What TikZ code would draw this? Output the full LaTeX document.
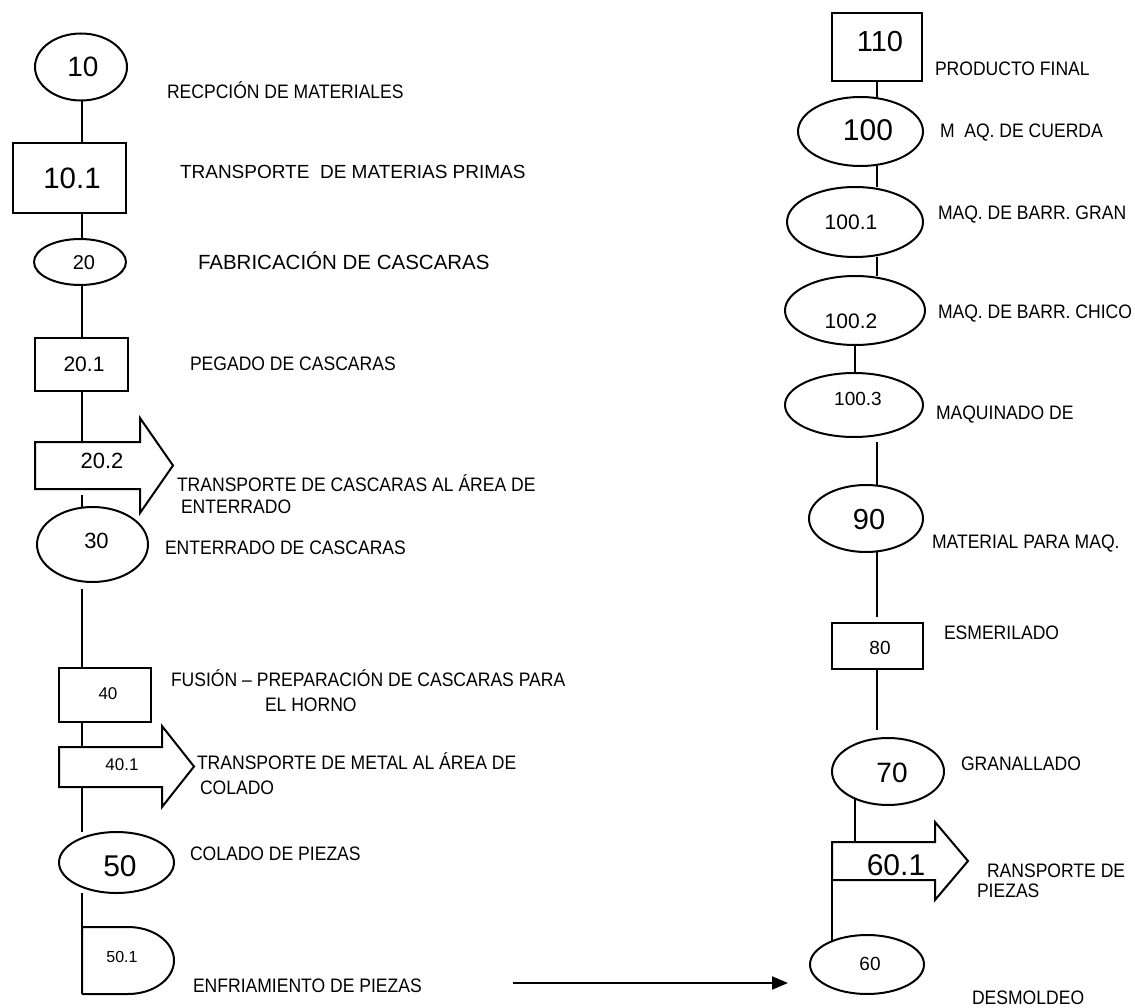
\documentclass[tikz,border=0pt]{standalone}
\usepackage{fontspec}
\setmainfont{Liberation Sans}[FakeStretch=0.9]
\newfontfamily\plainfont{Liberation Sans}
\usetikzlibrary{shapes.geometric,arrows.meta,calc}
\tikzset{
  outline/.style={line width=2pt, line join=miter},
  shp/.style={draw, line width=2pt, inner sep=0pt, outer sep=0pt},
  ell/.style={shp, ellipse},
  box/.style={shp, rectangle},
  ghost/.style={rectangle, inner sep=0pt, outer sep=0pt},
  num/.style={inner sep=0pt, outer sep=0pt, font=\plainfont\fontsize{#1}{#1}\selectfont},
  lbl/.style={anchor=west, inner sep=0pt, outer sep=0pt, text height=14pt, text depth=0pt, font=\fontsize{19.5}{23}\selectfont},
  widelbl/.style={anchor=west, inner sep=0pt, outer sep=0pt, text height=#1, text depth=0pt},
  link/.style={line width=2pt},
}
\begin{document}
\begin{tikzpicture}[x=1pt,y=-1pt]
\useasboundingbox[fill=white] (0,0) rectangle (1135,1008);

% spine coordinates
\coordinate (spL) at (81.5,0);
\coordinate (spRa) at (876.5,0);
\coordinate (spRb) at (855,0);

% ---------------- left column ----------------
\node[ell, minimum width=92pt, minimum height=67pt] (n10) at (81,67) {};
\node[num=28] (t10) at (83,67) {10};
\node[lbl] (l10) at (167,92) {RECPCIÓN DE MATERIALES};

\node[box, minimum width=113pt, minimum height=70pt] (b101) at (69.5,178) {};
\node[num=29.5] (t101) at (72,178) {10.1};
\node[widelbl=13.6pt, font=\plainfont\fontsize{19}{23}\selectfont] (l101) at (180,172) {TRANSPORTE \ DE MATERIAS PRIMAS};

\node[ell, minimum width=92pt, minimum height=46pt] (n20) at (80,262) {};
\node[num=20] (t20) at (84,263) {20};
\node[widelbl=14.7pt, font=\plainfont\fontsize{20.5}{25}\selectfont] (l20) at (198,262) {FABRICACIÓN DE CASCARAS};

\node[box, minimum width=93pt, minimum height=53pt] (b201) at (81.5,364.5) {};
\node[num=21] (t201) at (84,364) {20.1};
\node[lbl] (l201) at (190,363) {PEGADO DE CASCARAS};

\node[ghost, minimum width=105pt, minimum height=47pt] (a202) at (87.5,465.5) {};
\draw[outline] (a202.south west) -- (a202.north west) -- (a202.north east) -- ++(0,-24) -- ++(33,47.5) -- ++(-33,47.5) -- (a202.south east) -- cycle;
\node[num=22] (t202) at (102,461) {20.2};
\node[lbl] (l202a) at (177,484) {TRANSPORTE DE CASCARAS AL ÁREA DE};
\node[lbl] (l202b) at (181,506) {ENTERRADO};

\node[ell, minimum width=111pt, minimum height=75pt] (n30) at (92.5,544.5) {};
\node[num=22] (t30) at (96.5,541) {30};
\node[lbl] (l30) at (165,547) {ENTERRADO DE CASCARAS};

\node[box, minimum width=92pt, minimum height=54pt] (b40) at (105,695) {};
\node[num=17] (t40) at (108,694) {40};
\node[lbl] (l40a) at (171,679) {FUSIÓN – PREPARACIÓN DE CASCARAS PARA};
\node[lbl] (l40b) at (265,704) {EL HORNO};

\node[ghost, minimum width=103pt, minimum height=40pt] (a401) at (110.5,767) {};
\draw[outline] (a401.south west) -- (a401.north west) -- (a401.north east) -- ++(0,-21) -- ++(32,40.5) -- ++(-32,40.5) -- (a401.south east) -- cycle;
\node[num=17] (t401) at (122,765) {40.1};
\node[lbl] (l401a) at (197,762) {TRANSPORTE DE METAL AL ÁREA DE};
\node[lbl] (l401b) at (200,787) {COLADO};

\node[ell, minimum width=115pt, minimum height=61pt] (n50) at (116.5,862.5) {};
\node[num=30] (t50) at (120,866) {50};
\node[lbl] (l50) at (190,853) {COLADO DE PIEZAS};

\node[ghost, minimum width=92pt, minimum height=67pt] (d501) at (128,960.5) {};
\draw[outline] (d501.south west) -- (d501.north west) -- ++(46,0) arc[start angle=90, end angle=-90, x radius=46pt, y radius=33.5pt] -- (d501.south west);
\node[num=16] (t501) at (122,957) {50.1};
\node[lbl] (l501) at (193,985) {ENFRIAMIENTO DE PIEZAS};

% left connectors
\draw[link] (n10.south -| spL) -- (b101.north -| spL);
\draw[link] (b101.south -| spL) -- (n20.north -| spL);
\draw[link] (n20.south -| spL) -- (b201.north -| spL);
\draw[link] (b201.south -| spL) -- (a202.north -| spL);
\coordinate (g1) at (81.5,495);
\draw[link] (g1) -- (n30.north -| spL);
\coordinate (g2) at (82,589);
\draw[link] (g2) -- (b40.north -| g2);
\draw[link] (b40.south -| g2) -- (a401.north -| g2);
\draw[link] (a401.south -| g2) -- (n50.north -| g2);
\draw[link] (n50.south -| g2) -- (d501.north west);

% ---------------- right column ----------------
\node[box, minimum width=90pt, minimum height=68pt] (b110) at (877,47) {};
\node[num=29] (t110) at (880,42) {110};
\node[lbl] (l110) at (935,69) {PRODUCTO FINAL};

\node[ell, minimum width=125pt, minimum height=69pt] (n100) at (860.5,131.5) {};
\node[num=30] (t100) at (868,130) {100};
\node[lbl] (l100) at (940,131) {M \ AQ. DE CUERDA};

\node[ell, minimum width=136pt, minimum height=70pt] (n1001) at (855,222) {};
\node[num=21] (t1001) at (851,222) {100.1};
\node[lbl] (l1001) at (938,213) {MAQ. DE BARR. GRAN};

\node[ell, minimum width=140pt, minimum height=69pt] (n1002) at (855,310.5) {};
\node[num=21] (t1002) at (851,321) {100.2};
\node[lbl] (l1002) at (938,312) {MAQ. DE BARR. CHICO};

\node[ell, minimum width=138pt, minimum height=64pt] (n1003) at (854,405) {};
\node[num=19] (t1003) at (858,399) {100.3};
\node[lbl] (l1003) at (936,412) {MAQUINADO DE};

\node[ell, minimum width=114pt, minimum height=67pt] (n90) at (866,518.5) {};
\node[num=29] (t90) at (869,520) {90};
\node[lbl] (l90) at (932,541) {MATERIAL PARA MAQ.};

\node[box, minimum width=91pt, minimum height=46pt] (b80) at (877.5,646) {};
\node[num=19] (t80) at (880,648) {80};
\node[lbl] (l80) at (944,632) {ESMERILADO};

\node[ell, minimum width=112pt, minimum height=67pt] (n70) at (888,771.5) {};
\node[num=28] (t70) at (892,773) {70};
\node[lbl] (l70) at (961,763) {GRANALLADO};

\node[ghost, minimum width=103pt, minimum height=38pt] (a601) at (883.5,861) {};
\draw[outline] (a601.south west) -- (a601.north west) -- (a601.north east) -- ++(0,-20) -- ++(33,39) -- ++(-33,39) -- (a601.south east) -- cycle;
\node[num=30] (t601) at (896,865) {60.1};
\node[lbl] (l601a) at (987,870) {RANSPORTE DE};
\node[lbl] (l601b) at (977,890) {PIEZAS};

\node[ell, minimum width=114pt, minimum height=59pt] (n60) at (867,964.5) {};
\node[num=19] (t60) at (870,964) {60};
\node[lbl] (l60) at (972,997) {DESMOLDEO};

% right connectors
\draw[link] (b110.south -| spRa) -- (n100.north -| spRa);
\draw[link] (n100.south -| spRa) -- (n1001.north -| spRa);
\draw[link] (n1001.south -| spRa) -- (n1002.north -| spRa);
\draw[link] (n1002.south -| spRb) -- (n1003.north -| spRb);
\coordinate (g3) at (877,442);
\draw[link] (g3) -- (n90.north -| g3);
\coordinate (g4) at (877,617);
\draw[link] (n90.south -| g4) -- (g4);
\coordinate (g5) at (877,730);
\draw[link] (b80.south -| g5) -- (g5);
\draw[link] (n70.219) -- (n70.219 |- a601.north);
\draw[link] (a601.south west) -- (n60.146 -| a601.south west);

% bottom arrow
\coordinate (c1) at (513,983);
\coordinate (c2) at (788,983);
\draw[link, -{Triangle[length=16pt,width=13pt]}] (c1) -- (c2);
\end{tikzpicture}
\end{document}
